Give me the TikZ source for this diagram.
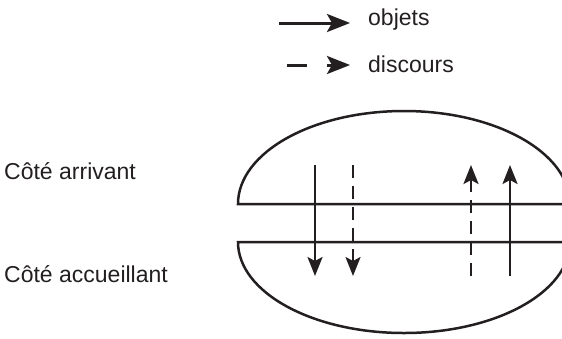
\documentclass[tikz,border=0pt]{standalone}
\usepackage{fontspec}
\setmainfont{Liberation Sans}
\usetikzlibrary{arrows.meta}
\definecolor{ink}{RGB}{35,31,32}
\begin{document}
\begin{tikzpicture}[x=1bp,y=-1bp,
  lbl/.style={inner sep=0pt, anchor=base west, text=ink, font=\fontsize{23bp}{27bp}\selectfont},
  flow/.style={draw=ink, line width=2.5bp, -{Stealth[length=19bp,width=15bp,inset=4bp]}},
  legflow/.style={draw=ink, line width=3bp, -{Stealth[length=23bp,width=18bp,inset=5bp]}},
  dsh/.style={dash pattern=on 13bp off 8bp},
  legdsh/.style={dash pattern=on 20bp off 20bp},
  outline/.style={draw=ink, line width=2.5bp, line join=miter}]
\useasboundingbox (0,0) rectangle (562,338);
\clip (0,0) rectangle (562,338);

% legend
\coordinate (ls1) at (279,23);
\coordinate (le1) at (350,23);
\coordinate (ls2) at (287,65);
\coordinate (le2) at (350,65);
\draw[legflow] (ls1) -- (le1);
\draw[legflow, legdsh] (ls2) -- (le2);
\node[lbl] (obj) at (368,25.5) {objets};
\node[lbl] (disc) at (368,72.5) {discours};

% side labels
\node[lbl] (arr) at (4,179) {Côté arrivant};
\node[lbl] (acc) at (4,282) {Côté accueillant};

% halves of the ellipse
\draw[outline] (238,204) arc[start angle=180, end angle=0, x radius=166bp, y radius=93bp] -- cycle;
\draw[outline] (238,242) arc[start angle=180, end angle=360, x radius=166bp, y radius=91bp] -- cycle;

% flows
\coordinate (a1s) at (315,165); \coordinate (a1e) at (315,276);
\coordinate (a2s) at (353,165); \coordinate (a2e) at (353,276);
\coordinate (a3s) at (471,276); \coordinate (a3e) at (471,165);
\coordinate (a4s) at (510,276); \coordinate (a4e) at (510,165);
\draw[flow] (a1s) -- (a1e);
\draw[flow, dsh] (a2s) -- (a2e);
\draw[flow, dsh] (a3s) -- (a3e);
\draw[flow] (a4s) -- (a4e);
\end{tikzpicture}
\end{document}
